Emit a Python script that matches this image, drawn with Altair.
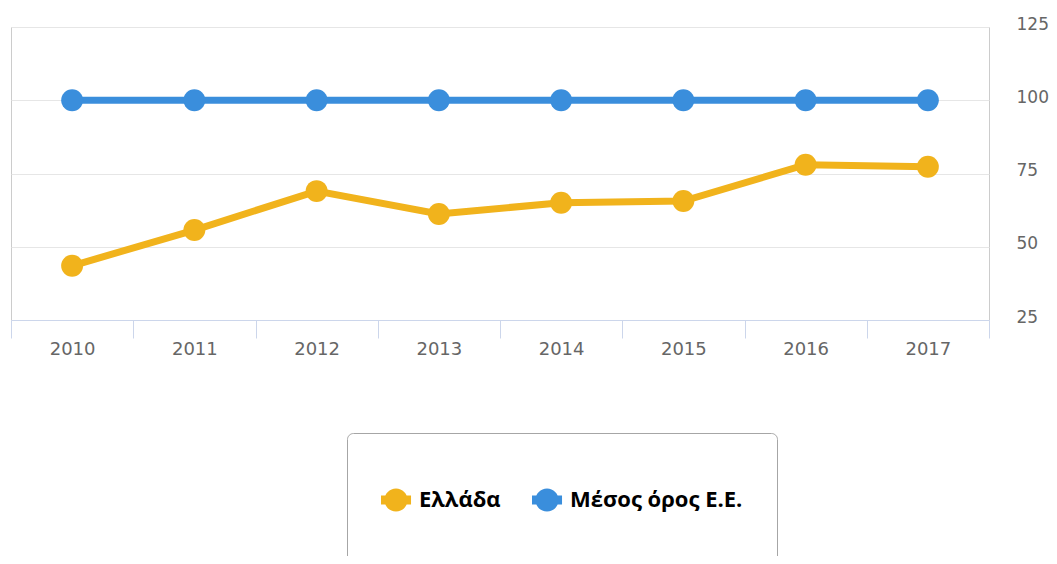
import altair as alt
import pandas as pd

years = ["2010", "2011", "2012", "2013", "2014", "2015", "2016", "2017"]
greece = [43.5, 55.7, 69.0, 61.2, 65.0, 65.6, 78.0, 77.3]
eu_avg = [100, 100, 100, 100, 100, 100, 100, 100]
series_names = ["Ελλάδα", "Μέσος όρος Ε.Ε."]
series_colors = ["#F1B31C", "#3A8EDC"]
y_ticks = [25, 50, 75, 100, 125]

rows = []
for y, v in zip(years, greece):
    rows.append({"year": y, "value": v, "series": series_names[0]})
for y, v in zip(years, eu_avg):
    rows.append({"year": y, "value": v, "series": series_names[1]})
df = pd.DataFrame(rows)

# legend symbol: a short thick line with a circle, drawn in the left part of a
# larger (invisible) square so the legend box gets its tall shape
SYMBOL = ("M-1,-1M1,1 M-1,-0.136H-0.09V0.136H-1Z "
          "M-0.895,0A0.35,0.35 0 1,1 -0.195,0A0.35,0.35 0 1,1 -0.895,0Z")

x_enc = alt.X(
    "year:O",
    sort=years,
    scale=alt.Scale(type="band", paddingInner=0, paddingOuter=0),
    axis=alt.Axis(
        title=None, labelAngle=0, tickBand="extent", tickSize=18,
        tickColor="#ccd6eb", domainColor="#ccd6eb", labelColor="#666666",
        labelFont="DejaVu Sans", labelFontSize=18, labelPadding=2, grid=False,
    ),
)
y_enc = alt.Y(
    "value:Q",
    scale=alt.Scale(domain=[25, 125], nice=False, zero=False),
    axis=alt.Axis(
        orient="right", values=y_ticks, title=None, domain=False, ticks=False,
        labelPadding=27, gridColor="#e6e6e6", labelColor="#666666",
        labelFont="DejaVu Sans", labelFontSize=17, labelOffset=-3,
    ),
)

# line layer: separate stroke scale (reversed domain order so it is not merged with the legend)
lines = alt.Chart(df).mark_line(strokeWidth=7).encode(
    x=x_enc, y=y_enc,
    stroke=alt.Stroke("series:N",
                      scale=alt.Scale(domain=series_names[::-1], range=series_colors[::-1]),
                      legend=None),
    detail="series:N",
)

points = alt.Chart(df).mark_point(filled=True, opacity=1, size=480, shape="circle").encode(
    x=x_enc, y=y_enc,
    color=alt.Color(
        "series:N", scale=alt.Scale(domain=series_names, range=series_colors),
        legend=alt.Legend(
            title=None, orient="none", legendX=336, legendY=406,
            direction="horizontal", symbolType=SYMBOL, symbolSize=4356,
            symbolStrokeWidth=0, symbolOpacity=1,
            labelFont="Open Sans", labelFontSize=22, labelFontWeight="bold",
            labelColor="#000000", labelOffset={"expr": "-28"}, columnPadding=31,
            padding=34, strokeColor="#a6a6a6", cornerRadius=6,
            labelLimit=400,
        ),
    ),
)

chart = (
    alt.layer(lines, points)
    .properties(width=978, height=293,
                autosize=alt.AutoSizeParams(type="none"),
                padding={"left": 3, "top": 19, "right": 60, "bottom": 236})
    .configure_view(stroke="#cccccc", strokeWidth=1)
)

chart.save("out.html", embed_options={"renderer": "svg", "actions": False})
